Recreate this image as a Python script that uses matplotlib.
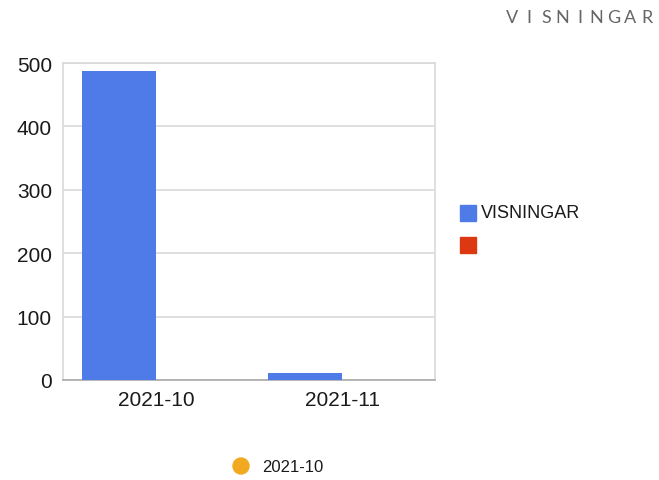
import numpy as np
import matplotlib
matplotlib.use("Agg")
import matplotlib.pyplot as plt
from matplotlib.patches import Rectangle, Ellipse

plt.rcParams["font.family"] = ["Liberation Sans", "DejaVu Sans"]

# -- data ---------------------------------------------------------------------
months = ["2021-10", "2021-11"]
visningar = [487, 11]
other = [0, 0]
y_ticks = [0, 100, 200, 300, 400, 500]
title = "VISNINGAR"
series_names = ["VISNINGAR", ""]
footer_label = "2021-10"

BLUE = "#4f7be8"
RED = "#dc3912"
ORANGE = "#f2a922"

fig = plt.figure(figsize=(6.59, 4.81), dpi=100)
ax = fig.add_axes([63 / 659, 1 - 381 / 481, (435 - 63) / 659, (381 - 64) / 481])

x = np.arange(len(months))
w = 0.4
ax.bar(x - w / 2, visningar, width=w, color=BLUE, zorder=3)
ax.bar(x + w / 2, other, width=w, color=RED, zorder=3)

ax.set_xlim(-0.5, len(months) - 0.5)
ax.set_ylim(0, 500)
ax.set_yticks(y_ticks)
ax.set_xticks(x)
ax.set_xticklabels(months)
ax.tick_params(axis="both", length=0, labelsize=15, colors="#1a1a1a")
ax.tick_params(axis="y", pad=8)
ax.tick_params(axis="x", pad=7)
ax.grid(axis="y", color="#d9d9d9", linewidth=1.2, zorder=0)
for side in ["top", "left", "right"]:
    ax.spines[side].set_color("#d9d9d9")
    ax.spines[side].set_linewidth(1.2)
ax.spines["bottom"].set_color("#aaaaaa")
ax.spines["bottom"].set_linewidth(1.2)

# legend on the right
for i, (name, col) in enumerate(zip(series_names, [BLUE, RED])):
    yy = 1 - (206 + 32 * i) / 481
    fig.patches.append(Rectangle((460 / 659, yy - 16 / 481), 16 / 659, 16 / 481,
                                 transform=fig.transFigure, color=col))
    fig.text(481 / 659, yy - 8 / 481, name, fontsize=13, color="#1a1a1a",
             va="center", ha="left")

# spaced title in the top right
for i, ch in enumerate(title):
    fig.text((512 + 16.9 * i) / 659, 1 - 18 / 481, ch, fontsize=13, color="#666666",
             va="center", ha="center", family=["Lato", "DejaVu Sans"])

# footer marker
fig.patches.append(Ellipse((241 / 659, 1 - 467 / 481), 16 / 659, 16 / 481,
                           transform=fig.transFigure, color=ORANGE))
fig.text(262 / 659, 1 - 468 / 481, footer_label, fontsize=12, color="#1a1a1a",
         va="center", ha="left")

fig.savefig("out.png", dpi=100)
